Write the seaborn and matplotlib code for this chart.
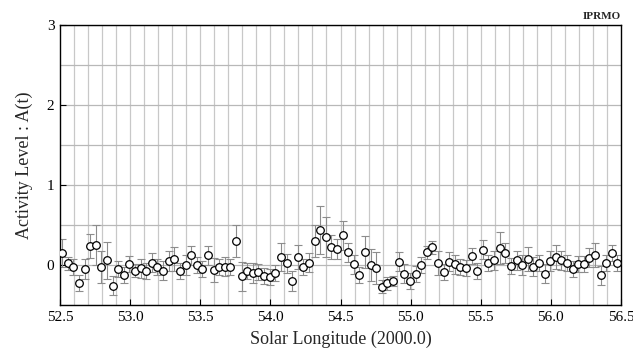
import numpy as np
import pandas as pd
import matplotlib
matplotlib.use("Agg")
import matplotlib.pyplot as plt
import seaborn as sns

# Solar longitude (J2000.0) of each bin
sol_lon = [
    52.515, 52.555, 52.595, 52.635, 52.675, 52.715, 52.755, 52.795, 52.835, 52.875,
    52.915, 52.955, 52.995, 53.035, 53.075, 53.115, 53.155, 53.195, 53.235, 53.275,
    53.315, 53.355, 53.395, 53.435, 53.475, 53.515, 53.555, 53.595, 53.635, 53.675,
    53.715, 53.755, 53.795, 53.835, 53.875, 53.915, 53.955, 53.995, 54.035, 54.075,
    54.115, 54.155, 54.195, 54.235, 54.275, 54.315, 54.355, 54.395, 54.435, 54.475,
    54.515, 54.555, 54.595, 54.635, 54.675, 54.715, 54.755, 54.795, 54.835, 54.875,
    54.915, 54.955, 54.995, 55.035, 55.075, 55.115, 55.155, 55.195, 55.235, 55.275,
    55.315, 55.355, 55.395, 55.435, 55.475, 55.515, 55.555, 55.595, 55.635, 55.675,
    55.715, 55.755, 55.795, 55.835, 55.875, 55.915, 55.955, 55.995, 56.035, 56.075,
    56.115, 56.155, 56.195, 56.235, 56.275, 56.315, 56.355, 56.395, 56.435, 56.475,
]

# Activity level A(t)
activity = [
    0.15, 0.02, -0.02, -0.23, -0.05, 0.24, 0.25, -0.02, 0.06, -0.26,
    -0.05, -0.13, 0.01, -0.07, -0.04, -0.07, 0.03, -0.03, -0.07, 0.05,
    0.07, -0.07, 0.00, 0.12, 0.00, -0.05, 0.12, -0.06, -0.03, -0.02,
    -0.03, 0.30, -0.14, -0.07, -0.10, -0.09, -0.14, -0.15, -0.10, 0.10,
    0.02, -0.20, 0.10, -0.02, 0.03, 0.30, 0.44, 0.35, 0.23, 0.20,
    0.37, 0.16, 0.01, -0.12, 0.16, 0.00, -0.04, -0.27, -0.23, -0.20,
    0.04, -0.11, -0.20, -0.11, 0.00, 0.16, 0.22, 0.03, -0.09, 0.04,
    0.01, -0.03, -0.04, 0.11, -0.07, 0.19, 0.03, 0.06, 0.21, 0.15,
    -0.01, 0.06, 0.00, 0.08, -0.02, 0.02, -0.11, 0.05, 0.10, 0.06,
    0.02, -0.05, 0.01, 0.01, 0.09, 0.13, -0.13, 0.03, 0.15, 0.03,
]

# One-sigma uncertainty of A(t)
activity_err = [
    0.18, 0.08, 0.10, 0.10, 0.12, 0.15, 0.25, 0.20, 0.23, 0.12,
    0.10, 0.10, 0.10, 0.08, 0.12, 0.10, 0.12, 0.10, 0.12, 0.12,
    0.15, 0.10, 0.12, 0.12, 0.10, 0.10, 0.12, 0.15, 0.10, 0.12,
    0.10, 0.20, 0.18, 0.10, 0.12, 0.10, 0.10, 0.10, 0.10, 0.18,
    0.12, 0.12, 0.15, 0.10, 0.12, 0.20, 0.30, 0.25, 0.15, 0.12,
    0.18, 0.12, 0.12, 0.10, 0.20, 0.20, 0.20, 0.08, 0.08, 0.06,
    0.12, 0.12, 0.10, 0.10, 0.10, 0.08, 0.08, 0.15, 0.10, 0.12,
    0.12, 0.10, 0.10, 0.10, 0.10, 0.12, 0.10, 0.12, 0.20, 0.12,
    0.10, 0.12, 0.12, 0.15, 0.12, 0.10, 0.12, 0.12, 0.15, 0.12,
    0.10, 0.10, 0.10, 0.10, 0.12, 0.15, 0.12, 0.10, 0.10, 0.10,
]

x_ticks = [52.5, 53.0, 53.5, 54.0, 54.5, 55.0, 55.5, 56.0, 56.5]
x_tick_labels = ["52.5", "53.0", "53.5", "54.0", "54.5", "55.0", "55.5", "56.0", "56.5"]
y_ticks = [0, 1, 2, 3]
y_tick_labels = ["0", "1", "2", "3"]

df = pd.DataFrame({"sol": sol_lon, "A": activity, "err": activity_err})

sns.set_style("white")
plt.rcParams["font.family"] = ["Liberation Serif", "DejaVu Serif"]

fig = plt.figure(figsize=(6.33, 3.54), dpi=100)
ax = fig.add_axes([60 / 633, 1 - 305 / 354, 561 / 633, 280 / 354])

# grid: every 0.1 in longitude, every 0.5 in activity
for xv in np.arange(52.6, 56.45, 0.1):
    ax.axvline(xv, color="#c8c8c8", lw=0.9, zorder=0)
for yv in np.arange(-0.5, 3.01, 0.5):
    ax.axhline(yv, color="#b8b8b8", lw=0.9, zorder=0)

ax.errorbar(df["sol"], df["A"], yerr=df["err"], fmt="none",
            ecolor="#8c8c8c", elinewidth=0.8, capsize=2.8, capthick=0.8, zorder=2)
sns.scatterplot(data=df, x="sol", y="A", ax=ax, marker="o", s=30,
                facecolor="white", edgecolor="black", linewidth=0.9, zorder=3,
                legend=False)

ax.set_xlim(52.5, 56.5)
ax.set_ylim(-0.5, 3.0)
ax.set_xticks(x_ticks)
ax.set_xticklabels(x_tick_labels)
ax.set_yticks(y_ticks)
ax.set_yticklabels(y_tick_labels)
ax.tick_params(axis="both", direction="in", length=4, width=0.8,
               labelsize=11, colors="black", pad=4)
ax.tick_params(top=False, right=False, bottom=True, left=True)
for side in ax.spines.values():
    side.set_color("black")
    side.set_linewidth(1.0)

ax.set_xlabel("Solar Longitude (2000.0)", fontsize=13, labelpad=5)
ax.set_ylabel("Activity Level : A(t)", fontsize=13, labelpad=10)
ax.text(1.0, 1.015, "IPRMO", transform=ax.transAxes, ha="right", va="bottom",
        fontsize=8, fontweight="bold")

fig.savefig("out.png", dpi=100)
